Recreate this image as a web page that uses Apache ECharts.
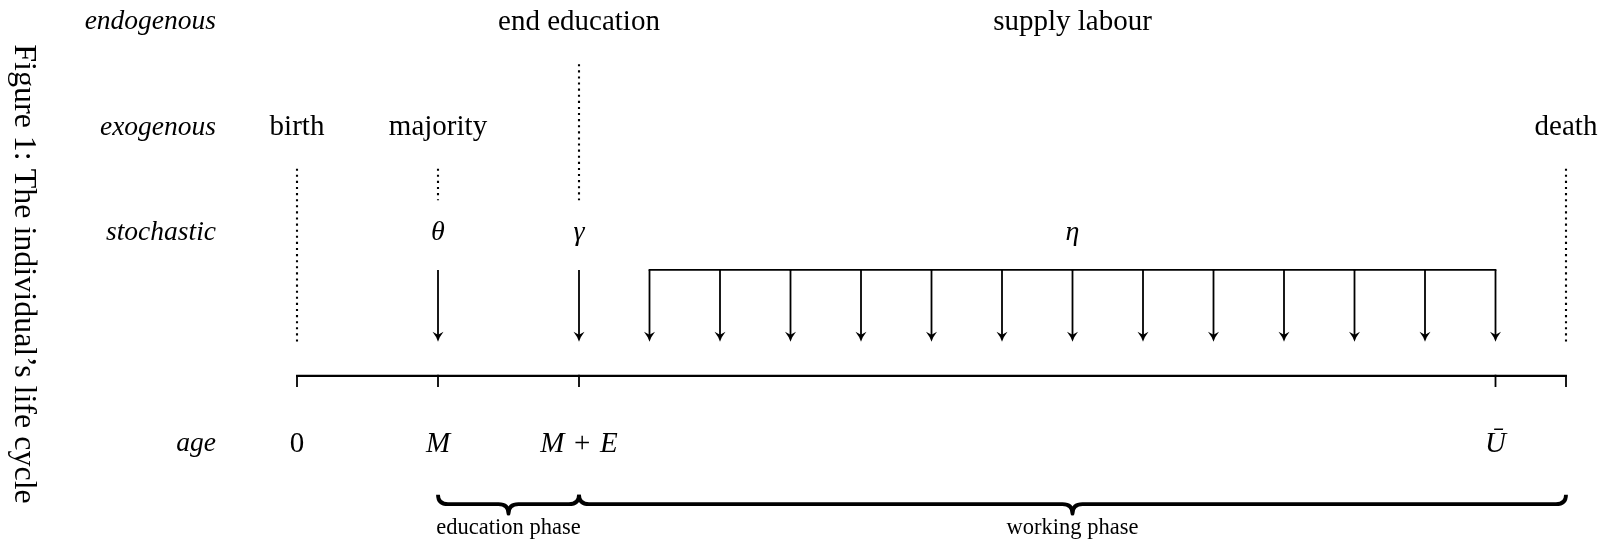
<!DOCTYPE html>
<html>
<head>
<meta charset="utf-8">
<script src="https://cdn.jsdelivr.net/npm/echarts@6/dist/echarts.min.js"></script>
<style>
  html, body { margin: 0; padding: 0; background: #fff; }
  #chart { width: 1608px; height: 541px; }
</style>
</head>
<body>
<div id="chart"></div>
<script>
// rows, top to bottom (row 3 is where the arrows sit, no label)
const rowNames = ['endogenous', 'exogenous', 'stochastic', '', 'age'];

// events, placed by age (M = 1 unit after birth, E = 1 unit)
const endoNames = ['end education', 'supply labour'];
const endoAges = [2, 5.5];
const endoDotted = [true, false];
const exoNames = ['birth', 'majority', 'death'];
const exoAges = [0, 1, 9];
const shockNames = ['θ', 'γ', 'η'];
const shockAges = [1, 2, 5.5];
const etaAges = [2.5, 3, 3.5, 4, 4.5, 5, 5.5, 6, 6.5, 7, 7.5, 8, 8.5];

const ageTicks = [0, 1, 2, 8.5, 9];
const ageTickLabels = ['0', 'M', 'M + E', 'Ū', ''];

const phaseNames = ['education phase', 'working phase'];
const phaseFrom = [1, 2];
const phaseTo = [2, 9];

// vertical layout in row units
const Y = {
  endoDotTop: 0.40, exoDotTop: 1.39, dotToShock: 1.69,
  arrowTop: 2.35, arrowBot: 3.03,
  line: 3.355, tick: 3.46,
  braceTop: 4.48, brace: 4.57, braceTip: 4.66, phase: 4.8
};
const FONT = '"Liberation Serif", "DejaVu Serif", serif';
const INK = '#000';
const TXT = 29;

const chart = echarts.init(document.getElementById('chart'));

function label(p, text, size, italic) {
  return {
    type: 'text', x: p[0], y: p[1],
    style: {
      text: text, fill: INK, align: 'center', verticalAlign: 'middle',
      font: (italic ? 'italic ' : '') + size + 'px ' + FONT
    }
  };
}

function arrow(api, a) {
  const t = api.coord([a, Y.arrowTop]);
  const b = api.coord([a, Y.arrowBot]);
  const x = b[0], y = b[1];
  return {
    type: 'group',
    children: [
      { type: 'line', shape: { x1: t[0], y1: t[1], x2: x, y2: y - 4 }, style: { stroke: INK, lineWidth: 1.8 } },
      { type: 'polygon', shape: { points: [[x, y], [x - 1.8, y - 4.5], [x - 5.5, y - 10], [x, y - 7], [x + 5.5, y - 10], [x + 1.8, y - 4.5]] }, style: { fill: INK } }
    ]
  };
}

function dotted(api, a, y0, y1) {
  const p0 = api.coord([a, y0]);
  const p1 = api.coord([a, y1]);
  return {
    type: 'line', shape: { x1: p0[0], y1: p0[1], x2: p1[0], y2: p1[1] },
    style: { stroke: INK, lineWidth: 2.1, lineDash: [2.1, 4] }
  };
}

const option = {
  animation: false,
  grid: { left: 297, right: 42, top: 22, bottom: 97 },
  xAxis: { type: 'value', min: 0, max: 9, show: false },
  yAxis: {
    type: 'value', min: 0, max: 4, interval: 1, inverse: true,
    axisLine: { show: false }, axisTick: { show: false }, splitLine: { show: false },
    axisLabel: {
      margin: 81, color: INK, fontFamily: FONT, fontSize: 27.5, fontStyle: 'italic',
      formatter: (v) => rowNames[v] || ''
    }
  },
  graphic: [{
    type: 'text', x: 23, y: 274, rotation: -Math.PI / 2,
    style: {
      text: 'Figure 1: The individual’s life cycle', fill: INK,
      align: 'center', verticalAlign: 'middle', font: '32px ' + FONT
    }
  }],
  series: [
    {
      // endogenous events
      type: 'custom', data: endoAges.map((a) => [a, 0]),
      renderItem: (params, api) => {
        const i = params.dataIndex;
        const a = api.value(0);
        const kids = [label(api.coord([a, 0]), endoNames[i], TXT, false)];
        if (endoDotted[i]) kids.push(dotted(api, a, Y.endoDotTop, Y.dotToShock));
        return { type: 'group', children: kids };
      }
    },
    {
      // exogenous events, dotted down to the shock or to the line
      type: 'custom', data: exoAges.map((a) => [a, 1]),
      renderItem: (params, api) => {
        const i = params.dataIndex;
        const a = api.value(0);
        const end = shockAges.indexOf(a) >= 0 ? Y.dotToShock : Y.arrowBot;
        return {
          type: 'group',
          children: [label(api.coord([a, 1]), exoNames[i], TXT, false), dotted(api, a, Y.exoDotTop, end)]
        };
      }
    },
    {
      // stochastic shocks
      type: 'custom', data: shockAges.map((a) => [a, 2]),
      renderItem: (params, api) => {
        const i = params.dataIndex;
        const a = api.value(0);
        const kids = [label(api.coord([a, 2]), shockNames[i], 28, true)];
        if (shockNames[i] !== 'η') kids.push(arrow(api, a));
        return { type: 'group', children: kids };
      }
    },
    {
      // eta shocks every half period of the working phase
      type: 'custom', data: etaAges.map((a) => [a, Y.arrowTop]),
      renderItem: (params, api) => {
        const a = api.value(0);
        const kids = [arrow(api, a)];
        if (params.dataIndex < etaAges.length - 1) {
          const p0 = api.coord([a, Y.arrowTop]);
          const p1 = api.coord([etaAges[params.dataIndex + 1], Y.arrowTop]);
          kids.push({ type: 'line', shape: { x1: p0[0] - 0.9, y1: p0[1], x2: p1[0] + 0.9, y2: p1[1] }, style: { stroke: INK, lineWidth: 1.8 } });
        }
        return { type: 'group', children: kids };
      }
    },
    {
      // age line with ticks and labels
      type: 'custom', data: ageTicks.map((a) => [a, Y.line]),
      renderItem: (params, api) => {
        const i = params.dataIndex;
        const a = api.value(0);
        const p = api.coord([a, Y.line]);
        const q = api.coord([a, Y.tick]);
        const kids = [
          { type: 'line', shape: { x1: p[0], y1: p[1] - 1, x2: q[0], y2: q[1] }, style: { stroke: INK, lineWidth: 1.8 } }
        ];
        if (i < ageTicks.length - 1) {
          const n = api.coord([ageTicks[i + 1], Y.line]);
          kids.push({ type: 'line', shape: { x1: p[0] - 0.9, y1: p[1], x2: n[0] + 0.9, y2: n[1] }, style: { stroke: INK, lineWidth: 2.2 } });
        }
        const txt = ageTickLabels[i].replace(/([A-ZŪ])/g, '{i|$1}').replace(' + ', ' \u200A+\u200A ');
        const lp = api.coord([a, 4]);
        kids.push({
          type: 'text', x: lp[0], y: lp[1],
          style: {
            text: txt, fill: INK, align: 'center', verticalAlign: 'middle',
            font: TXT + 'px ' + FONT,
            rich: { i: { fontStyle: 'italic', fontSize: TXT, fontFamily: FONT, fill: INK } }
          }
        });
        return { type: 'group', children: kids };
      }
    },
    {
      // phase braces
      type: 'custom', data: phaseFrom.map((f, i) => [f, phaseTo[i]]),
      renderItem: (params, api) => {
        const i = params.dataIndex;
        const a = api.coord([api.value(0), Y.brace]);
        const b = api.coord([api.value(1), Y.brace]);
        const top = api.coord([0, Y.braceTop])[1];
        const tip = api.coord([0, Y.braceTip])[1];
        const yl = a[1];
        const xm = (a[0] + b[0]) / 2;
        const r = 10;
        const d = 'M' + a[0] + ' ' + top + ' Q' + a[0] + ' ' + yl + ' ' + (a[0] + r) + ' ' + yl +
          ' L' + (xm - r) + ' ' + yl + ' Q' + xm + ' ' + yl + ' ' + xm + ' ' + tip +
          ' Q' + xm + ' ' + yl + ' ' + (xm + r) + ' ' + yl +
          ' L' + (b[0] - r) + ' ' + yl + ' Q' + b[0] + ' ' + yl + ' ' + b[0] + ' ' + top;
        const lp = api.coord([(api.value(0) + api.value(1)) / 2, Y.phase]);
        return {
          type: 'group',
          children: [
            { type: 'path', shape: { pathData: d }, style: { stroke: INK, fill: null, lineWidth: 3.8, lineJoin: 'round' } },
            label(lp, phaseNames[i], 22.5, false)
          ]
        };
      }
    }
  ]
};

chart.setOption(option);
</script>
</body>
</html>
